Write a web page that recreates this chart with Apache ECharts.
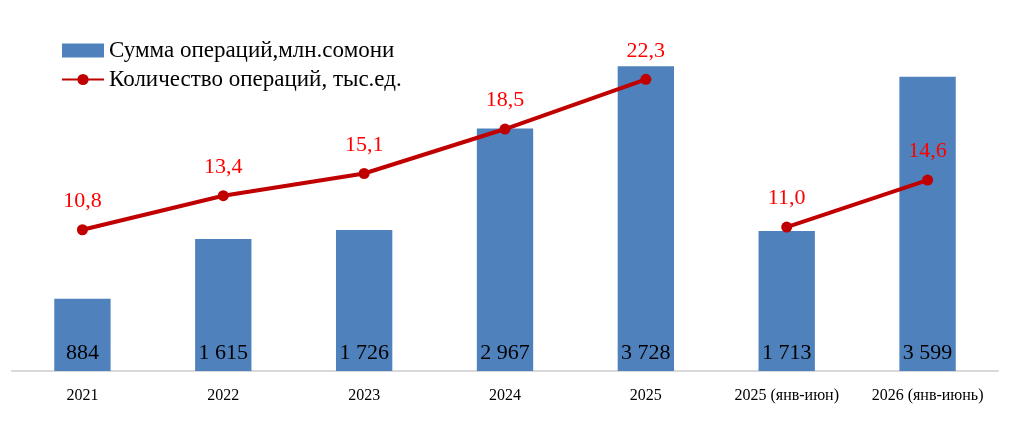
<!DOCTYPE html>
<html>
<head>
<meta charset="utf-8">
<script src="https://cdn.jsdelivr.net/npm/echarts@6/dist/echarts.min.js"></script>
<style>
  html, body { margin: 0; padding: 0; background: #fff; }
  #chart { width: 1034px; height: 444px; }
</style>
</head>
<body>
<div id="chart"></div>
<script>
// данные диаграммы
const categories = ['2021', '2022', '2023', '2024', '2025', '2025 (янв-июн)', '2026 (янв-июнь)'];
const sumValues = [884, 1615, 1726, 2967, 3728, 1713, 3599];
const countValues = [10.8, 13.4, 15.1, 18.5, 22.3, 11.0, 14.6];
const breakAfter = 4; // линия прерывается после 2025

const barName = 'Сумма операций,млн.сомони';
const lineName = 'Количество операций, тыс.ед.';

const fmtSpace = v => String(v).replace(/\B(?=(\d{3})+(?!\d))/g, ' ');
const fmtComma = v => Number(v).toFixed(1).replace('.', ',');

const firstPart = countValues.map((v, i) => i <= breakAfter ? v : '-');
const secondPart = countValues.map((v, i) => i > breakAfter ? v : '-');

const lineStyleCommon = {
  type: 'line',
  name: lineName,
  yAxisIndex: 1,
  symbol: 'circle',
  symbolSize: 11,
  itemStyle: { color: '#c00000' },
  lineStyle: { color: '#c00000', width: 4 },
  label: {
    show: true,
    position: 'top',
    distance: 12,
    color: '#ff0000',
    fontFamily: 'Liberation Serif',
    fontSize: 22,
    formatter: p => fmtComma(p.value)
  },
  z: 5
};

const chart = echarts.init(document.getElementById('chart'));
chart.setOption({
  animation: false,
  textStyle: { fontFamily: 'Liberation Serif' },
  legend: {
    orient: 'vertical',
    left: 56,
    top: 34,
    itemGap: 6,
    itemWidth: 42,
    itemHeight: 14,
    textStyle: { fontSize: 23, color: '#000', fontFamily: 'Liberation Serif' },
    data: [
      { name: barName, icon: 'rect' },
      { name: lineName }
    ]
  },
  grid: { left: 12, right: 36, top: 44, bottom: 73 },
  xAxis: {
    type: 'category',
    data: categories,
    axisLine: { lineStyle: { color: '#d9d9d9', width: 2 } },
    axisTick: { show: false },
    axisLabel: {
      interval: 0,
      color: '#000',
      fontSize: 16,
      margin: 17,
      fontFamily: 'Liberation Serif'
    }
  },
  yAxis: [
    { type: 'value', min: 0, max: 4000, show: false, splitLine: { show: false } },
    { type: 'value', min: 0, max: 25, show: false, splitLine: { show: false } }
  ],
  series: [
    {
      type: 'bar',
      name: barName,
      data: sumValues,
      barWidth: '40%',
      itemStyle: { color: '#4f81bd' },
      label: {
        show: true,
        position: 'insideBottom',
        distance: 7,
        color: '#000',
        fontSize: 22,
        fontFamily: 'Liberation Serif',
        formatter: p => fmtSpace(p.value)
      }
    },
    Object.assign({}, lineStyleCommon, { data: firstPart }),
    Object.assign({}, lineStyleCommon, { data: secondPart })
  ]
});
</script>
</body>
</html>
